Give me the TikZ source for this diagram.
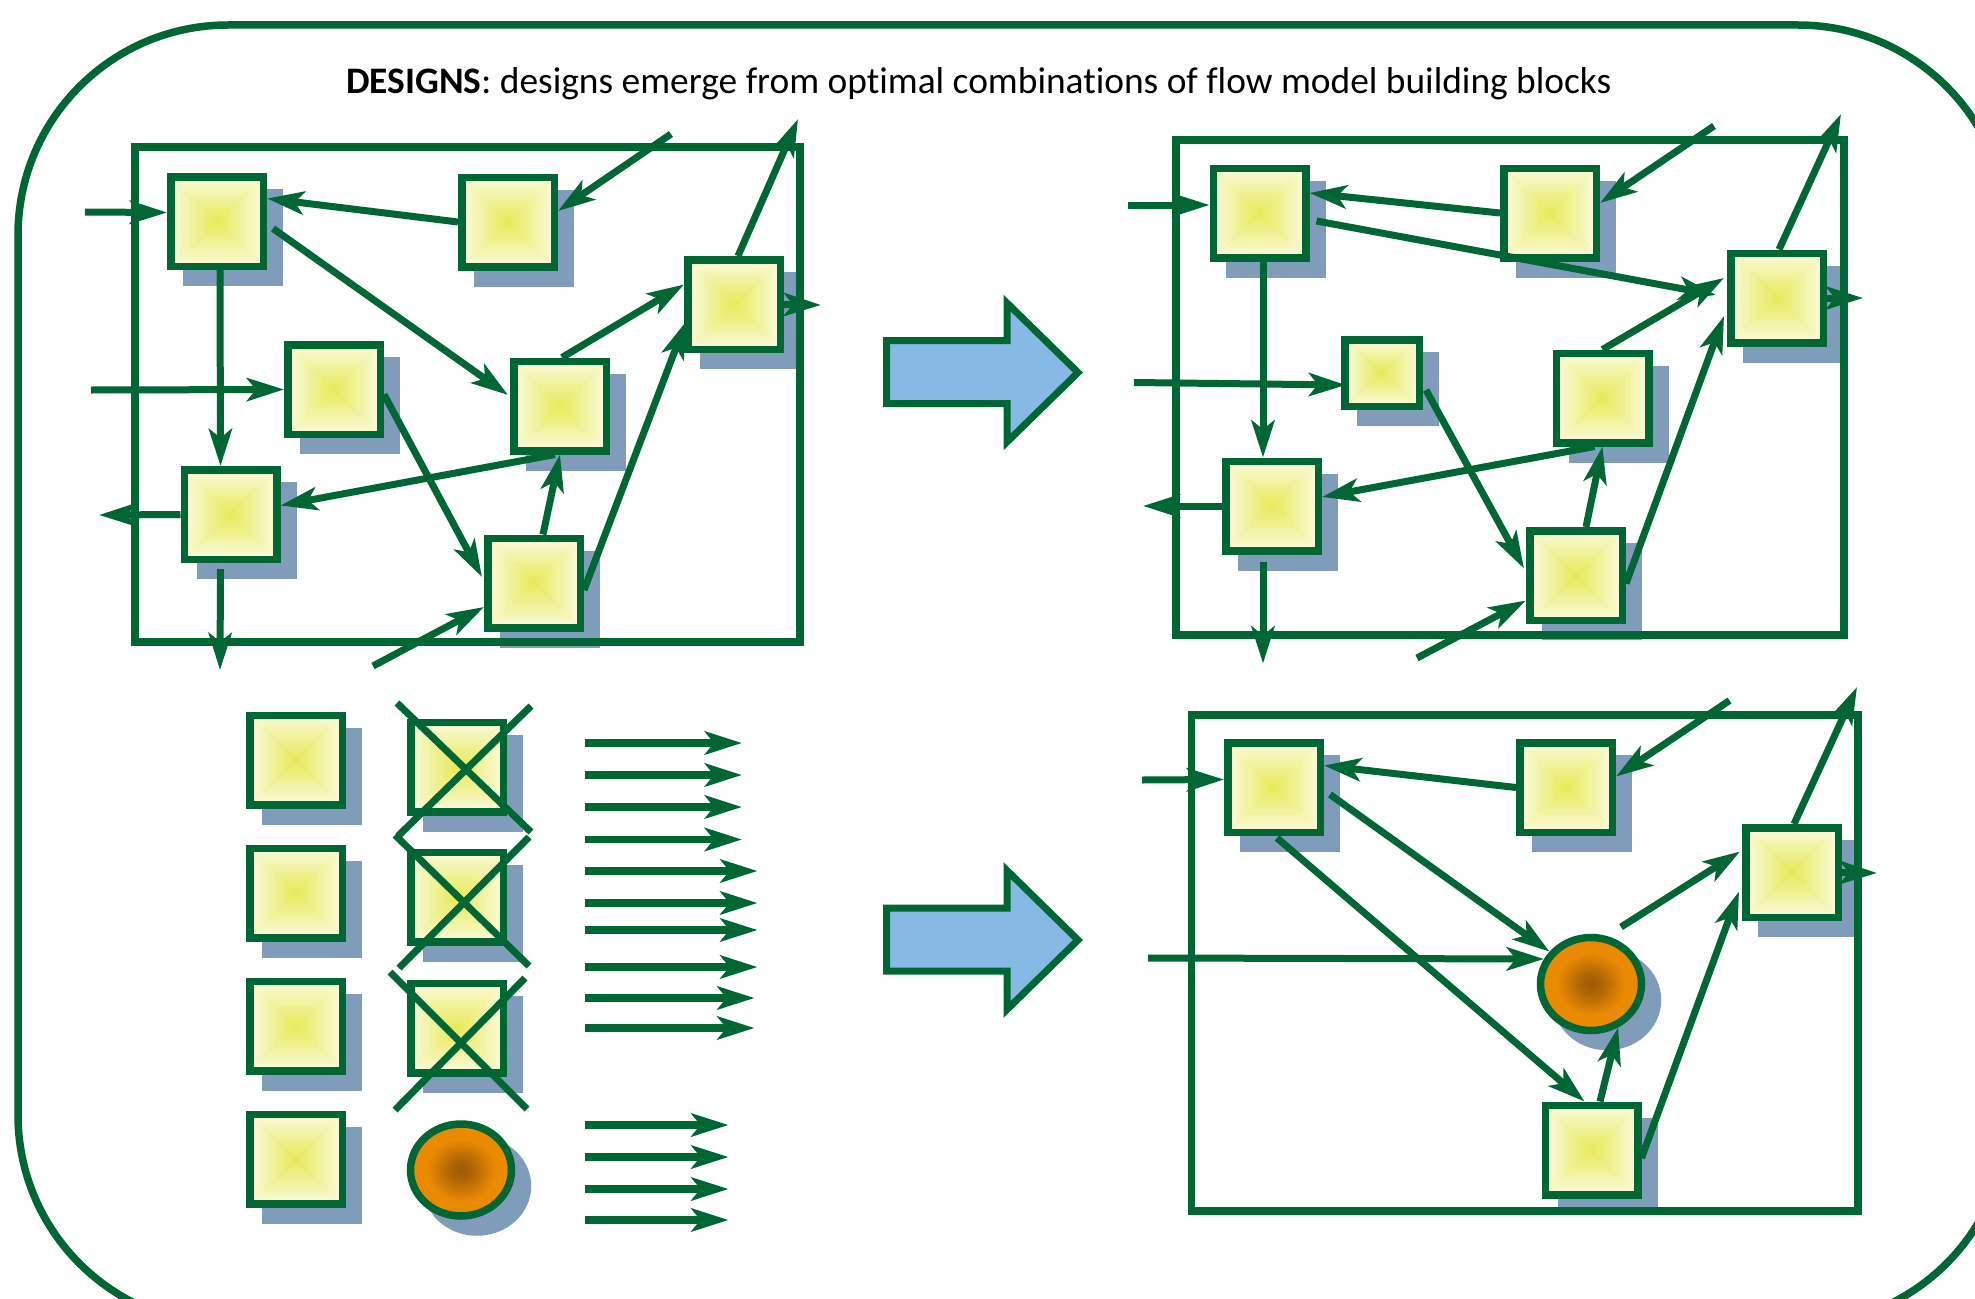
\documentclass[tikz,border=0pt]{standalone}
\usepackage{fontspec}
\setmainfont{Carlito}[Ligatures=NoCommon]
\usetikzlibrary{arrows.meta,calc,shapes.geometric,shadows}

\definecolor{dgreen}{RGB}{0,102,51}
\definecolor{shadowc}{RGB}{127,157,187}
\definecolor{paleY}{RGB}{250,250,218}
\definecolor{coreY}{RGB}{231,234,88}
\definecolor{arrowblue}{RGB}{134,186,228}
\definecolor{orangeC}{RGB}{234,138,0}
\definecolor{brownC}{RGB}{158,90,8}

\pgfdeclareradialshading{orb}{\pgfpoint{0bp}{0bp}}{color(0bp)=(brownC); color(5bp)=(brownC!80!orangeC); color(17bp)=(orangeC); color(25bp)=(orangeC); color(50bp)=(orangeC)}

\tikzset{
  x=1pt, y=-1pt,
  blockshadow/.style={general shadow={fill=shadowc, draw=shadowc, line width=7.5pt, shadow xshift=16pt, shadow yshift=-16pt}},
  % rectangular gradient: nested rectangles from pale rim to yellow core
  sqgrad/.style={path picture={
    \foreach \k [evaluate=\k as \f using 1-\k/24, evaluate=\k as \p using int(100*\k/23)] in {0,...,23}
      \fill[coreY!\p!paleY]
        ($(path picture bounding box.center)!\f!(path picture bounding box.north west)$) rectangle
        ($(path picture bounding box.center)!\f!(path picture bounding box.south east)$);
  }},
  blk/.style={rectangle, draw=dgreen, line width=7.5pt, fill=paleY, inner sep=0pt, outer sep=3.75pt,
    minimum width=92.5pt, minimum height=89.5pt, blockshadow, sqgrad},
  smallblk/.style={blk, minimum width=74.5pt, minimum height=66.5pt},
  orbnode/.style={ellipse, draw=dgreen, line width=7.5pt, inner sep=0pt, outer sep=3.75pt,
    minimum width=101pt, minimum height=93pt, blockshadow, shade, shading=orb},
  conn/.style={draw=dgreen, line width=7pt, -{Stealth[length=37pt,width=23pt,inset=9pt]}},
  listarrow/.style={conn, line width=7.3pt},
  frame/.style={draw=dgreen, line width=7.5pt},
  strike/.style={draw=dgreen, line width=7pt, preaction={draw=black, opacity=.2, transform canvas={shift={(2pt,-3pt)}}}},
  bigarrow/.style={draw=dgreen, fill=arrowblue, line width=7pt, line join=miter},
}

\begin{document}
\begin{tikzpicture}
\useasboundingbox (0,0) rectangle (1975,1298);
\clip (0,0) rectangle (1975,1298);

% outer rounded border
\draw[dgreen, line width=7.5pt, rounded corners=210pt] (18,25) rectangle (2008,1325);

% heading
\node[anchor=base west, inner sep=0pt, font=\fontsize{37.4}{44}\selectfont] (title) at (346,93)
  {\textbf{DESIGNS}: designs emerge from optimal combinations of flow model building blocks};

% ---- network A (initial layout) ----
\node[blk] (A1) at (217,221.5) {};
\node[blk] (A2) at (508,222) {};
\node[blk] (A3) at (734,304.5) {};
\node[blk] (A4) at (334,389.5) {};
\node[blk] (A5) at (560,406) {};
\node[blk] (A6) at (230.5,514.5) {};
\node[blk] (A7) at (534,583) {};
\draw[frame] (135,147) rectangle (800,642);

\coordinate (inA1) at (85,212);
\coordinate (inA2) at (671,134);
\coordinate (inA4) at (91,390);
\coordinate (outA6l) at (99,515);
\coordinate (outA6d) at (220,670);
\coordinate (inA7) at (373,666);
\coordinate (outA3u) at (798,119);
\coordinate (outA3r) at (821,305);

\draw[conn] (inA1) -- ($(A1.west)+(0,-9)$);
\draw[conn] (A2.west) -- ($(A1.east)+(0,-23)$);
\draw[conn] (inA2) -- ($(A2.east)+(0,-11)$);
\draw[conn] ($(A1.east)+(6,7)$) -- ($(A5.west)+(-2,-11)$);
\draw[conn] ($(A1.south)+(3,0)$) -- ($(A6.north)+(-10,0)$);
\draw[conn] (inA4) -- (A4.west);
\draw[conn] ($(A4.east)+(0,5)$) -- ($(A7.west)+(-2,-6)$);
\draw[conn] ($(A5.south)+(-5,0)$) -- ($(A6.east)+(0,-9)$);
\draw[conn] (A6.west) -- (outA6l);
\draw[conn] ($(A6.south)+(-10,6)$) -- (outA6d);
\draw[conn] ($(A7.north)+(9,0)$) -- (A5.south);
\draw[conn] (inA7) -- ($(A7.west)+(0,24)$);
\draw[conn] ($(A5.north)+(2,0)$) -- ($(A3.west)+(0,-20)$);
\draw[conn] ($(A7.east)+(0,7)$) -- ($(A3.west)+(2,17)$);
\draw[conn] ($(A3.north)+(4,0)$) -- (outA3u);
\draw[conn] (A3.east) -- (outA3r);

% ---- network B (improved layout) ----
\node[blk] (B1) at (1259.5,213) {};
\node[blk] (B2) at (1550,213) {};
\node[blk] (B3) at (1777,298) {};
\node[smallblk] (B4) at (1382,373) {};
\node[blk] (B5) at (1602.5,398) {};
\node[blk] (B6) at (1272,506) {};
\node[blk] (B7) at (1576,575.5) {};
\draw[frame] (1176,140) rectangle (1844,635);

\coordinate (inB1) at (1127.5,205);
\coordinate (inB2) at (1714,126);
\coordinate (inB4) at (1134,382.5);
\coordinate (outB6l) at (1143,506);
\coordinate (outB6d) at (1263,663.5);
\coordinate (inB7) at (1417,658);
\coordinate (outB3u) at (1841,114);
\coordinate (outB3r) at (1863,298);

\draw[conn] (inB1) -- ($(B1.west)+(0,-8)$);
\draw[conn] (B2.west) -- ($(B1.east)+(0,-20)$);
\draw[conn] (inB2) -- ($(B2.east)+(0,-10)$);
\draw[conn] ($(B1.east)+(7,8)$) -- ($(B3.west)+(-11,-3)$);
\draw[conn] ($(B1.south)+(3.5,0)$) -- ($(B6.north)+(-9,0)$);
\draw[conn] (inB4) -- ($(B4.west)+(5,12)$);
\draw[conn] ($(B4.east)+(3,17)$) -- ($(B7.west)+(-2,-7)$);
\draw[conn] ($(B5.south)+(-8,0)$) -- ($(B6.east)+(0,-9)$);
\draw[conn] (B6.west) -- (outB6l);
\draw[conn] ($(B6.south)+(-9,7)$) -- (outB6d);
\draw[conn] ($(B7.north)+(10,0)$) -- (B5.south);
\draw[conn] (inB7) -- ($(B7.west)+(0,25)$);
\draw[conn] (B5.north) -- ($(B3.west)+(-3,-20)$);
\draw[conn] ($(B7.east)+(0,8)$) -- ($(B3.west)+(-3,18)$);
\draw[conn] ($(B3.north)+(2,0)$) -- (outB3u);
\draw[conn] (B3.east) -- (outB3r);

% ---- building blocks ----
\node[blk] (C1a) at (296,760) {};
\node[blk] (C1b) at (296,893) {};
\node[blk] (C1c) at (296,1026) {};
\node[blk] (C1d) at (296,1159) {};
\node[blk] (C2a) at (457,767) {};
\node[blk] (C2b) at (457,897) {};
\node[blk] (C2c) at (457,1028) {};
\node[orbnode, minimum width=101pt, minimum height=92pt] (C2d) at (461,1170) {};

% struck-out blocks
\draw[strike] ($(C2a)+(-60,-64)$) -- ($(C2a)+(74,65)$);
\draw[strike] ($(C2a)+(74,-61)$) -- ($(C2a)+(-59,69)$);
\draw[strike] ($(C2b)+(-62,-62)$) -- ($(C2b)+(72,69)$);
\draw[strike] ($(C2b)+(72,-60)$) -- ($(C2b)+(-58,71)$);
\draw[strike] ($(C2c)+(-67,-56)$) -- ($(C2c)+(70,81)$);
\draw[strike] ($(C2c)+(68,-50)$) -- ($(C2c)+(-62,82)$);

% flow arrows
\foreach \yy/\xe in {743/742, 775/742, 807/742, 839.5/742, 871/757.5, 903/757.5, 930/757.5, 967/757.5,
                     998/754.5, 1028/754.5, 1125/728.5, 1157/728.5, 1189/728.5, 1220/728.5}
  \draw[listarrow] (585,\yy) -- (\xe,\yy);

% ---- large transition arrows ----
\draw[bigarrow] (886.5,340.5) -- (1007,340.5) -- (1007,303) -- (1078,372.5) -- (1007,442) -- (1007,403.5) -- (886.5,403.5) -- cycle;
\draw[bigarrow] (886.5,908) -- (1007,908) -- (1007,870.5) -- (1078,940) -- (1007,1009.5) -- (1007,971) -- (886.5,971) -- cycle;

% ---- network D (with new element) ----
\node[blk] (D1) at (1274,787.5) {};
\node[blk] (D2) at (1566,787.5) {};
\node[blk] (D3) at (1792,872.5) {};
\node[blk] (D4) at (1591.5,1150) {};
\node[orbnode] (D5) at (1591,984) {};
\draw[frame] (1191.5,715) rectangle (1858,1211);

\coordinate (inD1) at (1142,780);
\coordinate (inD2) at (1729.5,700.5);
\coordinate (inD5) at (1148,958);
\coordinate (outD3u) at (1857,687);
\coordinate (outD3r) at (1877,873);

\draw[conn] (inD1) -- ($(D1.west)+(0,-8)$);
\draw[conn] (D2.west) -- ($(D1.east)+(0,-22)$);
\draw[conn] (inD2) -- ($(D2.east)+(0,-11)$);
\draw[conn] ($(D1.east)+(6,7)$) -- (D5.142);
\draw[conn] ($(D1.south)+(3,2)$) -- ($(D4.north)+(-7,0)$);
\draw[conn] (inD5) -- (D5.152);
\draw[conn] ($(D4.north)+(8.5,0)$) -- (D5.-58);
\draw[conn] ($(D5.center)+(30,-57)$) -- ($(D3.west)+(-2,-21)$);
\draw[conn] ($(D4.east)+(0,8)$) -- ($(D3.west)+(-3,19)$);
\draw[conn] ($(D3.north)+(2,0)$) -- (outD3u);
\draw[conn] (D3.east) -- (outD3r);
\end{tikzpicture}
\end{document}
